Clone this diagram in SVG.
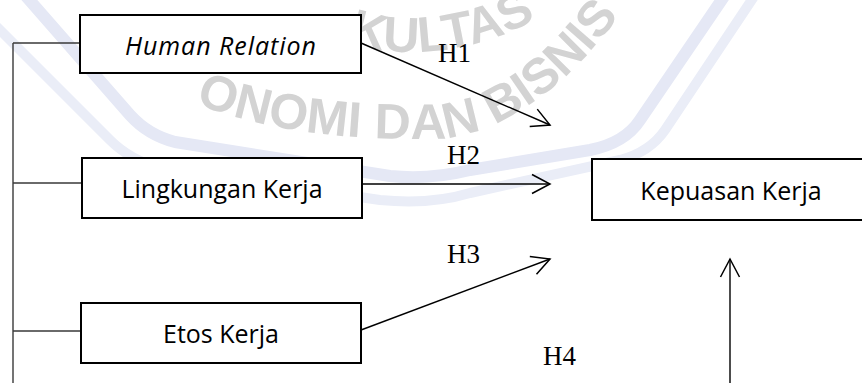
<svg xmlns="http://www.w3.org/2000/svg" width="862" height="383" viewBox="0 0 862 383">
<style>
.box{fill:#ffffff;stroke:#000000;stroke-width:2}
.lbl{font-family:"Open Sans","Liberation Sans",sans-serif;font-size:25px;fill:#000000;text-anchor:middle}
.hyp{font-family:"Liberation Serif","Times New Roman",serif;font-size:27px;fill:#000000}
.con{fill:none;stroke:#000000;stroke-width:1.4}
.brk{fill:none;stroke:#3a3a3a;stroke-width:1.4}
.band{fill:none;stroke-linejoin:round;stroke-linecap:butt}
.wm{font-family:"Liberation Sans",Arial,sans-serif;font-size:50px;font-weight:bold;fill:#d3d3d3}
</style>
<defs>
<marker id="arr" markerUnits="userSpaceOnUse" markerWidth="26" markerHeight="26" viewBox="-22 -13 26 26" refX="0" refY="0" orient="auto">
<path d="M-18,-9.5 L0,0 L-18,9.5" fill="none" stroke="#000000" stroke-width="1.5"/>
</marker>
<path id="wmInner" d="M100,55 C200,120 300,140 430,139 C490,138 550,100 600,40 L650,-20"/>
<path id="wmOuter" d="M250,-30 C300,25 350,52 410,52 C470,52 530,30 580,-10 L620,-40"/>
</defs>

<g id="watermark">
<path class="band" d="M-5,25 L110,140 Q130,160 160,168 L380,200 Q430,205 470,193 L620,160 Q650,152 665,130 L755,-5" stroke="#eaedf7" stroke-width="10"/>
<path class="band" d="M25,-5 L130,115 Q148,135 175,142 L390,176 Q430,180 470,170 L590,150 Q625,143 640,120 L725,-5" stroke="#e5e8f5" stroke-width="12"/>
<text class="wm"><textPath href="#wmInner" startOffset="107">ONOMI DAN BISNIS</textPath></text>
<text class="wm"><textPath href="#wmOuter" startOffset="122">KULTAS</textPath></text>
</g>

<g id="connectors">
<path class="brk" d="M13,43 V383 M13,43 H80 M13,183 H82 M13,331 H81"/>
<path class="con" d="M361,43 L550,125" marker-end="url(#arr)"/>
<path class="con" d="M362,184 L550,184" marker-end="url(#arr)"/>
<path class="con" d="M361,330 L550,259" marker-end="url(#arr)"/>
<path class="con" d="M730,383 L730,259" marker-end="url(#arr)"/>
<text class="hyp" x="438" y="62">H1</text>
<text class="hyp" x="447" y="164">H2</text>
<text class="hyp" x="447" y="263">H3</text>
<text class="hyp" x="543" y="365">H4</text>
</g>

<g id="node-human-relation">
<rect class="box" x="80" y="15" width="281" height="58"/>
<text class="lbl" x="220.5" y="55" font-style="italic" textLength="191" lengthAdjust="spacing">Human Relation</text>
</g>
<g id="node-lingkungan-kerja">
<rect class="box" x="82" y="158" width="280" height="60"/>
<text class="lbl" x="222" y="197.5">Lingkungan Kerja</text>
</g>
<g id="node-etos-kerja">
<rect class="box" x="81" y="303" width="280" height="60"/>
<text class="lbl" x="221" y="343">Etos Kerja</text>
</g>
<g id="node-kepuasan-kerja">
<rect class="box" x="592" y="159" width="290" height="61"/>
<text class="lbl" x="731" y="200">Kepuasan Kerja</text>
</g>
</svg>
